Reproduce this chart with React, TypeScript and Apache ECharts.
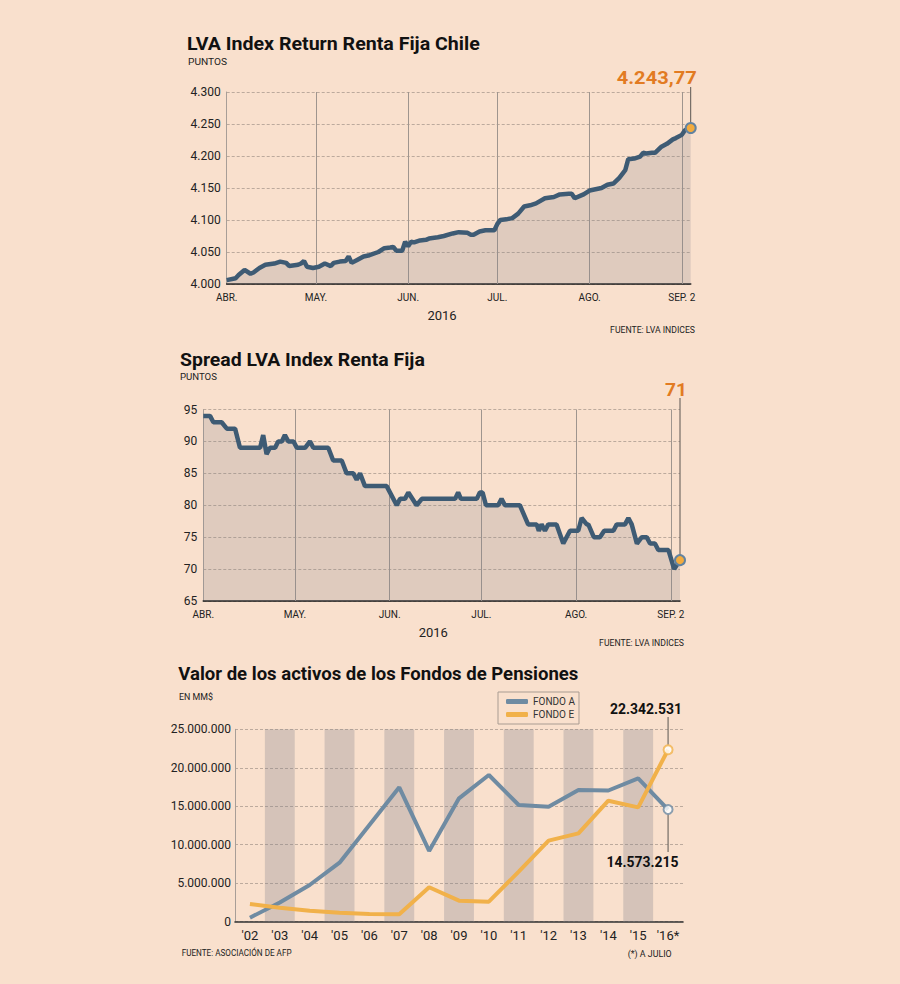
import React, { useEffect, useRef } from 'react';
import * as echarts from 'echarts';

// ---------- DATA ----------
const monthTickDays = [0, 30, 61, 91, 122, 153];
const monthTickLabels = ['ABR.', 'MAY.', 'JUN.', 'JUL.', 'AGO.', 'SEP. 2'];

// LVA Index Return Renta Fija Chile (days since 1 Apr 2016, points)
const lvaDays = [0, 3, 4, 6, 8, 9, 11, 13, 16, 18, 20, 21, 24, 25, 26, 27, 29, 31, 33, 35, 36, 38, 40, 41, 42, 44, 46, 48, 51, 53, 55, 56, 57, 59, 60, 61, 62, 63, 65, 67, 68, 71, 73, 76, 78, 81, 82, 83, 85, 87, 90, 91, 92, 94, 96, 98, 100, 102, 104, 107, 110, 112, 115, 116, 117, 119, 120, 122, 124, 126, 128, 130, 132, 134, 135, 137, 139, 140, 141, 143, 144, 146, 148, 150, 151, 153, 154, 156];
const lvaValues = [4006, 4009, 4014, 4022, 4016, 4018, 4025, 4030, 4032, 4035, 4033, 4028, 4030, 4032, 4036, 4027, 4025, 4027, 4032, 4028, 4033, 4035, 4036, 4043, 4033, 4038, 4043, 4045, 4050, 4056, 4057, 4058, 4052, 4052, 4066, 4059, 4066, 4065, 4068, 4069, 4071, 4073, 4075, 4079, 4081, 4080, 4077, 4077, 4082, 4084, 4084, 4094, 4100, 4101, 4103, 4110, 4121, 4123, 4126, 4134, 4136, 4140, 4141, 4141, 4134, 4138, 4140, 4146, 4148, 4150, 4155, 4157, 4166, 4178, 4195, 4196, 4199, 4205, 4204, 4205, 4205, 4214, 4219, 4226, 4228, 4233, 4240, 4243.77];
const lvaTicks = [4000, 4300, 50];

// Spread LVA Index Renta Fija
const spreadDays = [0, 2.2, 3.3, 6.0, 7.7, 10.4, 12.0, 18.6, 19.6, 20.7, 21.8, 23.5, 24.5, 25.7, 26.7, 27.8, 29.5, 30.6, 33.3, 34.9, 36.0, 40.9, 42.5, 45.3, 46.9, 49.1, 50.2, 51.3, 52.9, 60.0, 63.3, 64.4, 66.0, 67.1, 69.8, 71.5, 82.4, 83.4, 84.3, 89.5, 90.5, 91.4, 92.5, 96.5, 97.6, 98.7, 103.6, 106.3, 109.1, 109.8, 110.7, 111.8, 112.9, 115.6, 117.8, 120.0, 122.7, 123.8, 125.5, 126.0, 127.8, 129.8, 131.2, 134.2, 135.3, 138.0, 139.1, 140.2, 141.9, 143.5, 145.1, 146.2, 147.8, 148.9, 152.2, 154.1, 156];
const spreadValues = [94, 94, 93, 93, 92, 92, 89, 89, 91, 88, 89, 89, 90, 90, 91, 90, 90, 89, 89, 90, 89, 89, 87, 87, 85, 85, 84, 85, 83, 83, 80, 81, 81, 82, 80, 81, 81, 82, 81, 81, 82, 82, 80, 80, 81, 80, 80, 77, 77, 76, 77, 76, 77, 77, 74, 76, 76, 78, 77, 77, 75, 75, 76, 76, 77, 77, 78, 77, 74, 75, 75, 74, 74, 73, 73, 70, 71.4];
const spreadTicks = [65, 95, 5];

// Valor de los activos de los Fondos de Pensiones (MM$)
const years = ["'02", "'03", "'04", "'05", "'06", "'07", "'08", "'09", "'10", "'11", "'12", "'13", "'14", "'15", "'16*"];
const fondoA = [520000, 2500000, 4770000, 7670000, 12560000, 17460000, 9190000, 16030000, 19060000, 15160000, 14940000, 17110000, 17050000, 18630000, 14573215];
const fondoE = [2300000, 1820000, 1430000, 1170000, 1000000, 960000, 4470000, 2730000, 2600000, 6500000, 10530000, 11480000, 15720000, 14860000, 22342531];
const shadedYears = [0, 1, 0, 1, 0, 1, 0, 1, 0, 1, 0, 1, 0, 1, 0];
const fondosTicks = [0, 25000000, 5000000];

// ---------- STYLE ----------
const BG = '#f9e0cd';
const DASH = '#bcaa9d';
const VLINE = '#9f958e';
const AREA = 'rgba(128,128,138,0.30)';
const LINE = '#3e5b74';
const ORANGE = '#e27b22';
const FONT = 'Roboto';

function dots(v: number) {
  return Math.round(v).toString().replace(/\B(?=(\d{3})+(?!\d))/g, '.');
}
function esNumber(v: number, dec: number) {
  const f = v.toFixed(dec).split('.');
  return dots(Number(f[0])) + (dec ? ',' + f[1] : '');
}

export default function App() {
  const ref = useRef<HTMLDivElement>(null);
  useEffect(() => {
    document.body.style.margin = '0';
    const chart = echarts.init(ref.current!, null, { renderer: 'svg' });

    const monthLabel = (v: number) => {
      const i = monthTickDays.indexOf(v);
      return i >= 0 ? monthTickLabels[i] : '';
    };
    const timeXAxis = (gi: number) => ({
      type: 'value', gridIndex: gi, min: 0, max: lvaDays[lvaDays.length - 1],
      axisLine: { show: true, onZero: false, lineStyle: { color: '#1a1a1a', width: 1.6 } },
      axisTick: { show: false },
      splitLine: { show: false },
      axisLabel: { customValues: monthTickDays, formatter: monthLabel, color: '#222', fontFamily: FONT, fontSize: 10, margin: 8 },
    });
    const valYAxis = (gi: number, t: number[], margin: number, fmt: any) => ({
      type: 'value', gridIndex: gi, min: t[0], max: t[1], interval: t[2],
      axisLine: { show: true, lineStyle: { color: '#a89e97', width: 1 } },
      axisTick: { show: false },
      axisLabel: { formatter: fmt, color: '#222', fontFamily: FONT, fontSize: 12, margin },
      splitLine: { show: true, lineStyle: { color: DASH, width: 1, type: [3, 2] } },
    });
    const monthLines = (xi: number, yMin: number) => ({
      type: 'line', xAxisIndex: xi, yAxisIndex: xi, data: [[0, yMin]], symbol: 'none', silent: true,
      lineStyle: { opacity: 0 }, z: 1,
      markLine: {
        silent: true, symbol: 'none', z: 1, animation: false,
        label: { show: false },
        lineStyle: { color: VLINE, width: 1, type: 'solid' },
        data: monthTickDays.slice(1).map((d) => ({ xAxis: d })),
      },
    });

    const option: any = {
      animation: false,
      backgroundColor: BG,
      textStyle: { fontFamily: FONT },
      grid: [
        { left: 226.7, top: 92, width: 464, height: 192 },
        { left: 203.3, top: 409.5, width: 476.7, height: 191.5 },
        { left: 235, top: 729.3, width: 448, height: 192.4 },
      ],
      xAxis: [
        timeXAxis(0),
        timeXAxis(1),
        {
          type: 'category', gridIndex: 2, data: years, boundaryGap: true,
          axisLine: { show: true, lineStyle: { color: '#333', width: 1.6 } },
          axisTick: { show: false },
          axisLabel: { interval: 0, color: '#222', fontFamily: FONT, fontSize: 13, margin: 7 },
          splitLine: { show: false },
        },
      ],
      yAxis: [
        valYAxis(0, lvaTicks, 6, (v: number) => dots(v)),
        valYAxis(1, spreadTicks, 6, (v: number) => String(v)),
        valYAxis(2, fondosTicks, 4, (v: number) => dots(v)),
      ],
      legend: {
        data: ['FONDO A', 'FONDO E'],
        orient: 'vertical', left: 498, top: 692,
        icon: 'roundRect', itemWidth: 22, itemHeight: 5, itemGap: 2,
        padding: [4, 4, 4, 8],
        borderColor: '#a99c92', borderWidth: 1,
        selectedMode: false,
        textStyle: { fontFamily: FONT, fontSize: 10, color: '#333', lineHeight: 11 },
      },
      series: [
        monthLines(0, lvaTicks[0]),
        {
          type: 'line', xAxisIndex: 0, yAxisIndex: 0, symbol: 'none', silent: true, z: 3,
          data: lvaDays.map((d, i) => [d, lvaValues[i]]),
          lineStyle: { color: LINE, width: 4.5 },
          areaStyle: { color: AREA, origin: 'start' },
        },
        {
          type: 'scatter', xAxisIndex: 0, yAxisIndex: 0, silent: true, z: 5,
          data: [[lvaDays[lvaDays.length - 1], lvaValues[lvaValues.length - 1]]],
          symbolSize: 10, itemStyle: { color: '#f3ab3e', borderColor: '#6383a0', borderWidth: 2, opacity: 1 },
        },
        monthLines(1, spreadTicks[0]),
        {
          type: 'line', xAxisIndex: 1, yAxisIndex: 1, symbol: 'none', silent: true, z: 3,
          data: spreadDays.map((d, i) => [d, spreadValues[i]]),
          lineStyle: { color: LINE, width: 4.5 },
          areaStyle: { color: AREA, origin: 'start' },
        },
        {
          type: 'scatter', xAxisIndex: 1, yAxisIndex: 1, silent: true, z: 5,
          data: [[spreadDays[spreadDays.length - 1], spreadValues[spreadValues.length - 1]]],
          symbolSize: 10, itemStyle: { color: '#f3ab3e', borderColor: '#6383a0', borderWidth: 2, opacity: 1 },
        },
        {
          type: 'bar', xAxisIndex: 2, yAxisIndex: 2, silent: true, z: 1,
          barWidth: '100%', barGap: '-100%',
          data: shadedYears.map((f) => (f ? fondosTicks[1] : null)),
          itemStyle: { color: AREA },
        },
        {
          name: 'FONDO A', type: 'line', xAxisIndex: 2, yAxisIndex: 2, symbol: 'none', silent: true, z: 3,
          data: fondoA,
          itemStyle: { color: '#6f8ba2' },
          lineStyle: { color: '#6f8ba2', width: 4 },
        },
        {
          name: 'FONDO E', type: 'line', xAxisIndex: 2, yAxisIndex: 2, symbol: 'none', silent: true, z: 3,
          data: fondoE,
          itemStyle: { color: '#f1b14a' },
          lineStyle: { color: '#f1b14a', width: 4 },
        },
        {
          type: 'scatter', xAxisIndex: 2, yAxisIndex: 2, silent: true, z: 5, symbolSize: 9,
          data: [
            { value: [years.length - 1, fondoA[fondoA.length - 1]], itemStyle: { color: '#fff', borderColor: '#6f8ba2', borderWidth: 2 } },
            { value: [years.length - 1, fondoE[fondoE.length - 1]], itemStyle: { color: '#fff', borderColor: '#f1b14a', borderWidth: 2 } },
          ],
        },
      ],
    };
    chart.setOption(option);

    const ctx = document.createElement('canvas').getContext('2d')!;
    const txt = (text: string, x: number, y: number, size: number, weight: string, color: string, width?: number, align = 'left') => {
      ctx.font = `${weight} ${size}px ${FONT}`;
      const w = ctx.measureText(text).width;
      return {
        type: 'text', x, y, scaleX: width ? width / w : 1, silent: true, z: 10,
        style: { text, x: 0, y: 0, fill: color, fontFamily: FONT, fontSize: size, fontWeight: weight, align, verticalAlign: 'middle' },
      };
    };
    const vline = (x: number, y1: number, y2: number) => ({
      type: 'line', silent: true, z: 4,
      shape: { x1: x, y1, x2: x, y2 },
      style: { stroke: '#5a5550', lineWidth: 1 },
    });

    const p1 = chart.convertToPixel({ gridIndex: 0 }, [lvaDays[lvaDays.length - 1], lvaValues[lvaValues.length - 1]]);
    const p2 = chart.convertToPixel({ gridIndex: 1 }, [spreadDays[spreadDays.length - 1], spreadValues[spreadValues.length - 1]]);
    const pA = chart.convertToPixel({ gridIndex: 2 }, [years.length - 1, fondoA[fondoA.length - 1]]);
    const pE = chart.convertToPixel({ gridIndex: 2 }, [years.length - 1, fondoE[fondoE.length - 1]]);

    const elements = [
      txt('LVA Index Return Renta Fija Chile', 187, 43.5, 19, 'bold', '#111', 293),
      txt('PUNTOS', 188, 61.3, 9.5, 'normal', '#222', 39),
      txt(esNumber(lvaValues[lvaValues.length - 1], 2), p1[0] + 6, 77.5, 19, 'bold', ORANGE, 80, 'right'),
      vline(p1[0], 87, p1[1] - 5),
      txt('2016', 442, 315, 13, 'normal', '#222'),
      txt('FUENTE: LVA INDICES', 695, 330, 9.5, 'normal', '#222', 85, 'right'),

      txt('Spread LVA Index Renta Fija', 180, 360, 19, 'bold', '#111', 245),
      txt('PUNTOS', 180, 377, 9.5, 'normal', '#222', 37),
      txt(esNumber(spreadValues[spreadValues.length - 1], 0), p2[0] + 7, 390, 19, 'bold', ORANGE, 22, 'right'),
      vline(p2[0], 398, p2[1] - 5),
      txt('2016', 433.3, 632.7, 13, 'normal', '#222'),
      txt('FUENTE: LVA INDICES', 684, 642.7, 9.5, 'normal', '#222', 85, 'right'),

      txt('Valor de los activos de los Fondos de Pensiones', 178.3, 674, 19, 'bold', '#111', 400),
      txt('EN MM$', 179, 696.7, 9.5, 'normal', '#222', 34),
      txt(dots(fondoE[fondoE.length - 1]), 682, 709, 14, 'bold', '#111', 72, 'right'),
      vline(pE[0], 717, pE[1] - 5),
      txt(dots(fondoA[fondoA.length - 1]), 678.5, 862, 14, 'bold', '#111', 72, 'right'),
      vline(pA[0], pA[1] + 5, 852),
      txt('FUENTE: ASOCIACIÓN DE AFP', 181.7, 953, 9.5, 'normal', '#222', 110),
      txt('(*) A JULIO', 671.7, 953, 9.5, 'normal', '#222', 44, 'right'),
    ];
    (elements[4] as any).style.align = 'center';
    (elements[10] as any).style.align = 'center';
    chart.setOption({ graphic: { elements } });

    return () => chart.dispose();
  }, []);
  return <div ref={ref} style={{ position: 'fixed', left: 0, top: 0, width: 900, height: 984 }} />;
}
